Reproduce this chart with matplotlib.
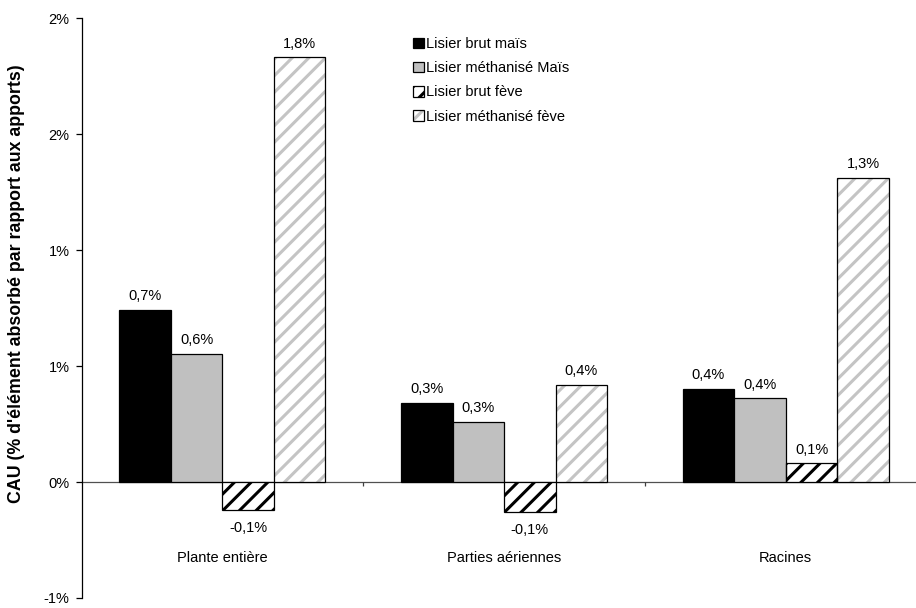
import matplotlib
matplotlib.use("Agg")
import matplotlib.pyplot as plt
from matplotlib.patches import Patch
from matplotlib.transforms import blended_transform_factory
import numpy as np

plt.rcParams["font.family"] = ["Liberation Sans", "DejaVu Sans"]
plt.rcParams["hatch.linewidth"] = 2.2

# Data (CAU, % of applied element absorbed)
categories = ["Plante entière", "Parties aériennes", "Racines"]
series_names = ["Lisier brut maïs", "Lisier méthanisé Maïs",
                "Lisier brut fève", "Lisier méthanisé fève"]
brut_mais = [0.74, 0.34, 0.40]
meth_mais = [0.55, 0.26, 0.36]
brut_feve = [-0.12, -0.13, 0.08]
meth_feve = [1.83, 0.42, 1.31]
y_ticks = [-0.5, 0.0, 0.5, 1.0, 1.5, 2.0]
y_tick_labels = ["-1%", "0%", "1%", "1%", "2%", "2%"]

series = [brut_mais, meth_mais, brut_feve, meth_feve]
styles = [
    dict(face="black", hatch=None, hatch_color=None),
    dict(face="#C0C0C0", hatch=None, hatch_color=None),
    dict(face="white", hatch="//", hatch_color="black"),
    dict(face="white", hatch="//", hatch_color="#C4C4C4"),
]

FS = 10.5

fig = plt.figure(figsize=(9.16, 6.08), dpi=100)
ax = fig.add_axes([0.0890, 0.01645, 0.9226, 0.9539])

x = np.arange(len(categories))
w = 0.183
offsets = [-1.5 * w, -0.5 * w, 0.5 * w, 1.5 * w]

handles = []
for vals, off, st in zip(series, offsets, styles):
    pos = x + off
    if st["hatch"]:
        ax.bar(pos, vals, w, facecolor=st["face"], edgecolor=st["hatch_color"],
               hatch=st["hatch"], linewidth=0, zorder=2)
        ax.bar(pos, vals, w, facecolor="none", edgecolor="black",
               linewidth=0.9, zorder=3)
        h = (Patch(facecolor=st["face"], edgecolor=st["hatch_color"],
                   hatch=st["hatch"], linewidth=0),
             Patch(facecolor="none", edgecolor="black", linewidth=0.9))
    else:
        ax.bar(pos, vals, w, facecolor=st["face"], edgecolor="black",
               linewidth=0.9, zorder=3)
        h = Patch(facecolor=st["face"], edgecolor="black", linewidth=0.9)
    handles.append(h)
    for xp, v in zip(pos, vals):
        txt = f"{v:.1f}".replace(".", ",") + "%"
        if v >= 0:
            ax.annotate(txt, (xp, v), xytext=(0, 5), textcoords="offset points",
                        ha="center", va="bottom", fontsize=FS)
        else:
            ax.annotate(txt, (xp, v), xytext=(0, -8), textcoords="offset points",
                        ha="center", va="top", fontsize=FS)

ax.set_xlim(-0.5, 2.5)
ax.set_ylim(-0.5, 2.0)
ax.set_yticks(y_ticks)
ax.set_yticklabels(y_tick_labels, fontsize=FS)
ax.tick_params(axis="y", direction="out", length=4.5, width=0.9, pad=4)

ax.set_xticks([0.5, 1.5])
ax.set_xticklabels([])
ax.tick_params(axis="x", direction="out", length=3, width=0.9, color="#404040")

ax.spines["top"].set_visible(False)
ax.spines["right"].set_visible(False)
ax.spines["bottom"].set_position(("data", 0))
ax.spines["bottom"].set_color("#505050")
ax.spines["bottom"].set_linewidth(0.9)
ax.spines["bottom"].set_zorder(1)
ax.spines["left"].set_linewidth(0.9)

trans = blended_transform_factory(ax.transData, ax.transData)
for xi, cat in zip(x, categories):
    ax.text(xi, -0.328, cat, ha="center", va="center", fontsize=FS,
            transform=trans)

fig.text(17 / 916, 1 - 284 / 608,
         "CAU (% d'élément absorbé par rapport aux apports)",
         rotation=90, ha="center", va="center", fontsize=12.8, fontweight="bold")

fig.legend(handles, series_names, loc="upper left",
           bbox_to_anchor=(413 / 916, 1 - 37 / 608),
           frameon=False, fontsize=FS, borderpad=0, borderaxespad=0,
           handlelength=0.72, handleheight=0.72, handletextpad=0.15,
           labelspacing=0.70)

fig.savefig("out.png", dpi=100)
